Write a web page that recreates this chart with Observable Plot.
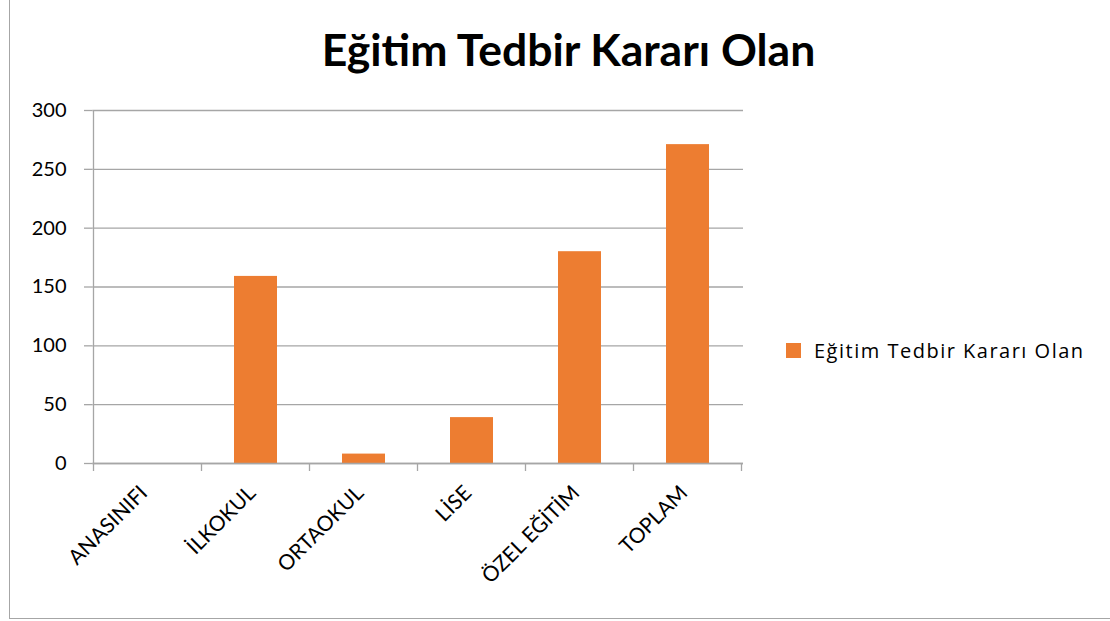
<!DOCTYPE html>
<html>
<head>
<meta charset="utf-8">
<script src="https://cdn.jsdelivr.net/npm/d3@7"></script>
<script src="https://cdn.jsdelivr.net/npm/@observablehq/plot@0.6"></script>
<style>
  html, body { margin: 0; padding: 0; background: #fff; }
  #chart { position: relative; width: 1110px; height: 621px; font-family: Lato, "Open Sans", sans-serif; color: #000; }
  #frame { position: absolute; left: 9px; top: 0; width: 1110px; height: 618px; border-left: 1px solid #a6a6a6; border-bottom: 1px solid #a6a6a6; box-sizing: content-box; pointer-events: none; }
  #title { height: 90px; text-align: center; font-weight: bold; font-size: 44.5px; line-height: 1; padding-left: 27px; box-sizing: border-box; padding-top: 26.5px; }
  #row { display: flex; flex-direction: row; height: 528px; }
  #legend { display: flex; align-items: center; margin-top: 250px; height: 20px; font-family: "Open Sans", Lato, sans-serif; font-size: 20px; letter-spacing: 1.5px; }
  #legend .sw { width: 15px; height: 15px; background: #ED7D31; margin-left: 6px; margin-right: 13px; }
</style>
</head>
<body>
<div id="chart">
  <div id="frame"></div>
  <div id="title"></div>
  <div id="row"><div id="plot"></div><div id="legend"><div class="sw"></div><span id="legtext"></span></div></div>
</div>
<script>
const seriesName = "Eğitim Tedbir Kararı Olan";
const categories = ["ANASINIFI", "İLKOKUL", "ORTAOKUL", "LİSE", "ÖZEL EĞİTİM", "TOPLAM"];
const values = [0, 159, 8, 39, 180, 271];
const yTicks = [0, 50, 100, 150, 200, 250, 300];

document.getElementById("title").textContent = seriesName;
document.getElementById("legtext").textContent = seriesName;

const data = categories.map((c, i) => ({category: c, value: values[i]}));
const gridColor = "#a6a6a6";

const plot = Plot.plot({
  width: 780,
  height: 528,
  marginLeft: 92.5,
  marginRight: 37,
  marginTop: 20,
  marginBottom: 155,
  style: {fontFamily: "Lato, 'Open Sans', sans-serif", fontSize: "20px", color: "#000", background: "#fff"},
  x: {domain: categories, paddingInner: 0.6, paddingOuter: 0.3, label: null},
  y: {domain: [0, 300], label: null},
  marks: [
    Plot.gridY(yTicks, {stroke: gridColor, strokeOpacity: 1, strokeWidth: 1.3}),
    Plot.axisY(yTicks, {tickSize: 8.5, tickPadding: 18, stroke: gridColor, strokeWidth: 1.3, fill: "#000", label: null, fontSize: 20}),
    Plot.barY(data, {x: "category", y: "value", fill: "#ED7D31"}),
    Plot.ruleY([0], {stroke: gridColor, strokeWidth: 1.3}),
    Plot.axisX({tickSize: 0, tickPadding: 22, tickRotate: -45, dx: -4, dy: 4, fill: "#000", label: null, fontSize: 21})
  ]
});
document.getElementById("plot").appendChild(plot);

// category boundary ticks and left axis line, placed through the Plot x scale
const xs = plot.scale("x");
const ys = plot.scale("y");
const svg = d3.select(plot);
const step = xs.step;
const bounds = categories.map(c => xs.apply(c) + xs.bandwidth / 2 - step / 2);
bounds.push(xs.apply(categories[categories.length - 1]) + xs.bandwidth / 2 + step / 2);
const y0 = ys.apply(0), yTop = ys.apply(300);
const g = svg.append("g").attr("stroke", gridColor).attr("stroke-width", 1.3);
g.selectAll("line.b").data(bounds).join("line")
  .attr("x1", d => d).attr("x2", d => d).attr("y1", y0).attr("y2", y0 + 8);
g.append("line").attr("x1", bounds[0]).attr("x2", bounds[0]).attr("y1", yTop).attr("y2", y0);
</script>
</body>
</html>
